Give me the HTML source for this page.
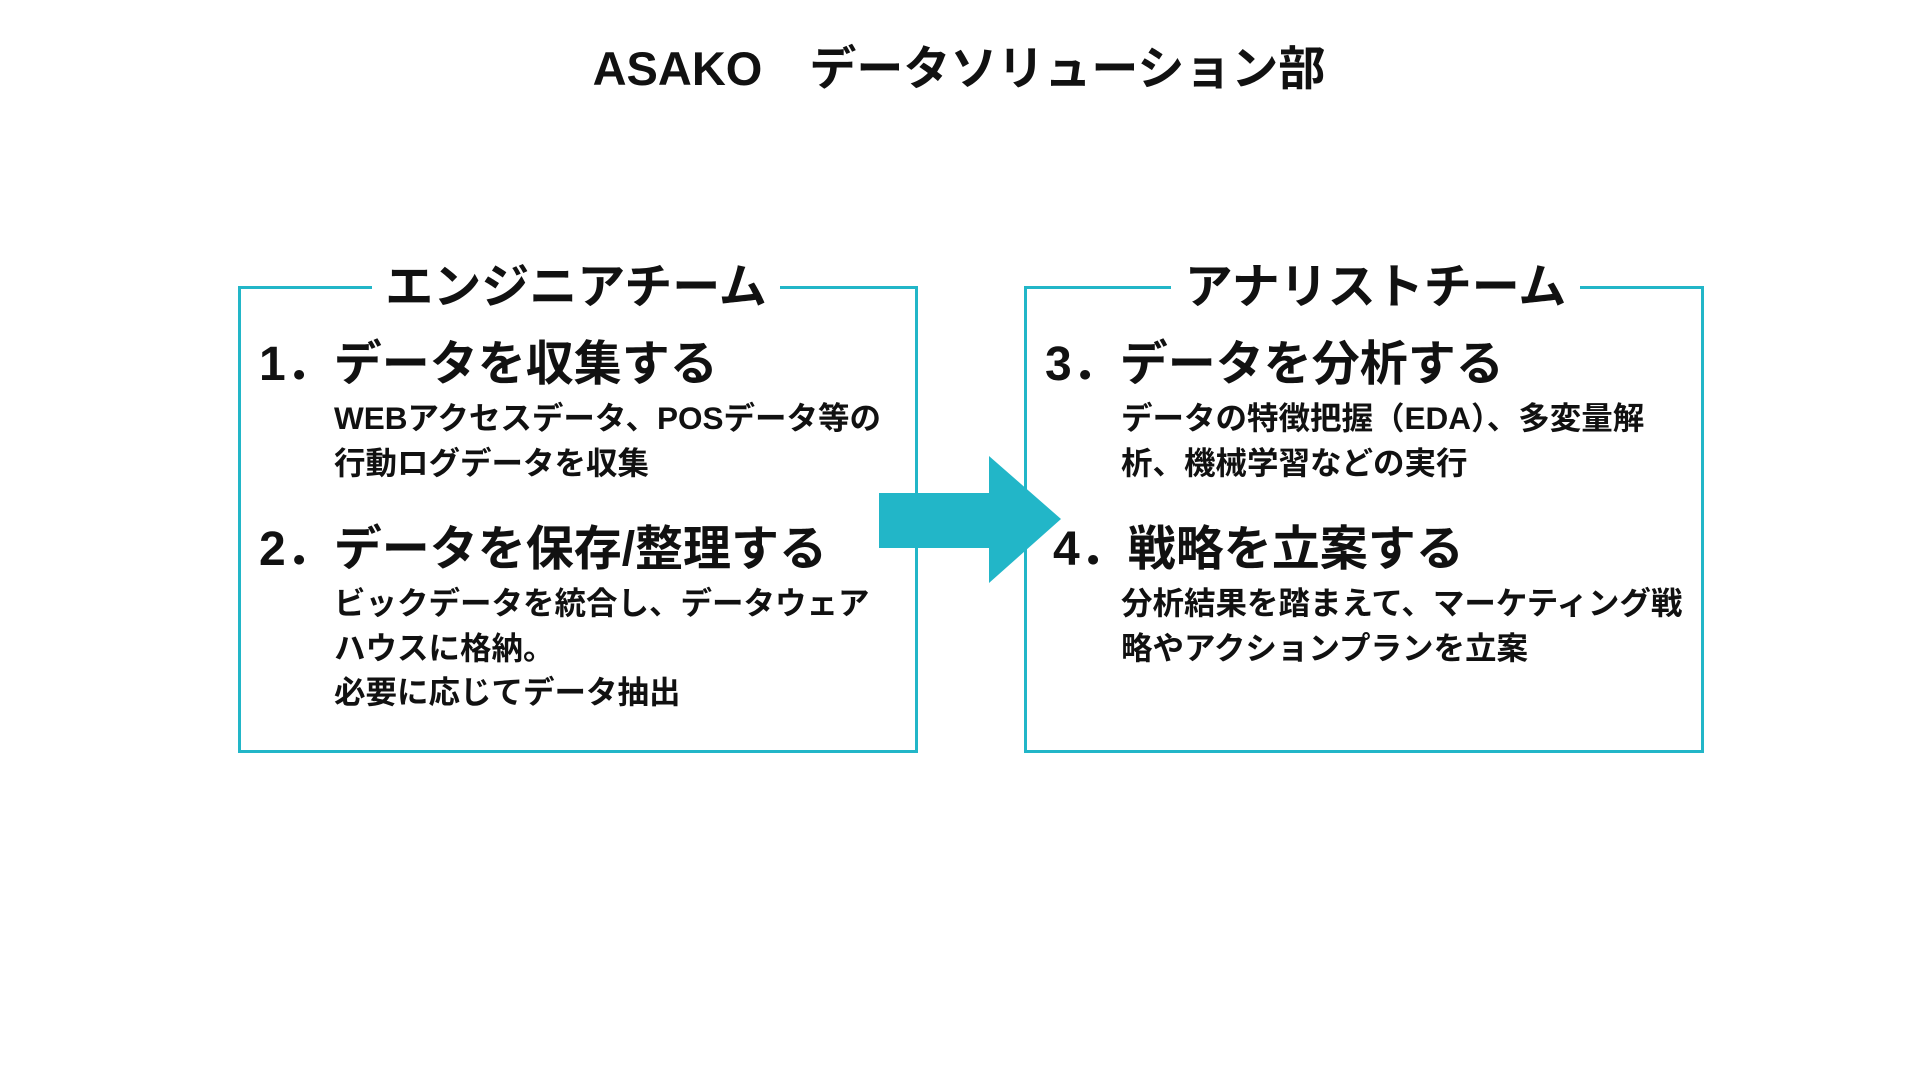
<!DOCTYPE html>
<html><head><meta charset="utf-8"><style>
body{margin:0;width:1920px;height:1080px;background:#fff;position:relative;overflow:hidden;font-family:"Liberation Sans","Noto Sans CJK JP",sans-serif;font-weight:700;color:#111}
.a{position:absolute;white-space:nowrap;line-height:1}
.box{position:absolute;border:3px solid #22b6c8;box-sizing:border-box}
.h{font-size:48px}
.b{font-size:31.5px}
.gap{position:absolute;background:#fff;height:8px}
</style></head><body>
<div class="a" style="left:0;width:1918px;text-align:center;top:45px;font-size:47px">ASAKO　データソリューション部</div>

<div class="box" style="left:238px;top:286px;width:680px;height:467px"></div>
<div class="gap" style="left:372px;top:283px;width:408px"></div>
<div class="a h" style="left:372px;width:408px;text-align:center;top:264px">エンジニアチーム</div>

<div class="box" style="left:1024px;top:286px;width:680px;height:467px"></div>
<div class="gap" style="left:1171px;top:283px;width:409px"></div>
<div class="a h" style="left:1171px;width:409px;text-align:center;top:264px">アナリストチーム</div>

<div class="a h" style="left:259px;top:341px">1．データを収集する</div>
<div class="a b" style="left:334px;top:403px">WEBアクセスデータ、POSデータ等の</div>
<div class="a b" style="left:334px;top:448px">行動ログデータを収集</div>

<div class="a h" style="left:259px;top:526px">2．データを保存/整理する</div>
<div class="a b" style="left:334px;top:588px">ビックデータを統合し、データウェア</div>
<div class="a b" style="left:334px;top:633px">ハウスに格納。</div>
<div class="a b" style="left:334px;top:677px">必要に応じてデータ抽出</div>

<div class="a h" style="left:1045px;top:341px">3．データを分析する</div>
<div class="a b" style="left:1121px;top:403px">データの特徴把握（EDA）、多変量解</div>
<div class="a b" style="left:1121px;top:448px">析、機械学習などの実行</div>

<div class="a h" style="left:1053px;top:526px">4．戦略を立案する</div>
<div class="a b" style="left:1121px;top:588px">分析結果を踏まえて、マーケティング戦</div>
<div class="a b" style="left:1121px;top:633px">略やアクションプランを立案</div>

<svg class="a" style="left:0;top:0" width="1920" height="1080"><polygon points="879,493 989,493 989,456 1061,519 989,583 989,548 879,548" fill="#22b6c8"/></svg>
</body></html>
